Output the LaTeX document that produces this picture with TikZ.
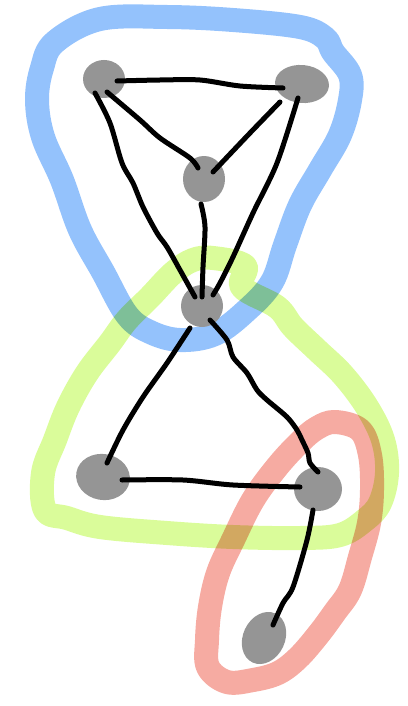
\documentclass[tikz,border=0pt]{standalone}
\usetikzlibrary{shapes.geometric}
\definecolor{hblue}{HTML}{94C2FC}
\definecolor{hgreen}{HTML}{DAFC9A}
\definecolor{hred}{HTML}{F6ABA2}
\definecolor{ngray}{HTML}{959595}
\tikzset{
  hyper/.style={line width=24pt, line join=round, blend mode=multiply},
  vtx/.style={ellipse, fill=ngray, inner sep=0pt},
  edge/.style={line width=5pt, line cap=round, line join=round, black}
}
\begin{document}
\begin{tikzpicture}[x=1pt,y=-1pt]
\useasboundingbox (0,0) rectangle (407,706);
% hyperedges
\draw[hyper, hgreen] plot[smooth cycle, tension=0.6] coordinates {
 (213,258) (245,266) (242,287) (277,307) (293,327) (317,350) (343,375)
 (367,407) (383,440) (387,473) (380,503) (365,520) (340,535) (300,538)
 (233,537) (167,533) (100,527) (67,518) (45,510) (43,473) (55,440)
 (68,407) (87,373) (110,343) (127,320) (150,297) (173,273) (193,260)};
\draw[hyper, hblue] plot[smooth cycle, tension=0.6] coordinates {
 (55,42) (100,19) (167,17) (233,20) (300,27) (325,38) (333,52) (350,75)
 (350,100) (340,135) (320,170) (300,205) (285,245) (272,282) (247,310)
 (215,334) (180,340) (150,332) (127,315) (103,272) (80,230) (62,180)
 (43,137) (37,100) (42,68)};
\draw[hyper, hred] plot[smooth cycle, tension=0.6] coordinates {
 (335,422) (360,430) (370,455) (372,490) (369,523) (360,557) (350,590)
 (335,612) (318,635) (298,658) (278,673) (253,680) (227,682) (208,667)
 (207,640) (210,607) (218,573) (233,540) (253,500) (277,467) (300,442)
 (317,428)};
% vertices
\node[vtx, minimum width=42pt, minimum height=38pt] (A) at (104,79) {};
\node[vtx, minimum width=54pt, minimum height=38pt, rotate=-5] (B) at (302,84) {};
\node[vtx, minimum width=42pt, minimum height=46pt] (C) at (204,179) {};
\node[vtx, minimum width=42pt, minimum height=42pt] (D) at (202,306) {};
\node[vtx, minimum width=54pt, minimum height=46pt, rotate=-10] (E) at (103,477) {};
\node[vtx, minimum width=48pt, minimum height=44pt] (F) at (318,489) {};
\node[vtx, minimum width=42pt, minimum height=54pt, rotate=-25] (G) at (264,638) {};
% edges
\draw[edge] plot[smooth] coordinates {([shift={(13,2)}]A.center) (160,80) (200,80) (240,86) ([shift={(-19,4)}]B.center)};
\draw[edge] plot[smooth] coordinates {([shift={(3,13)}]A.center) (140,120) (160,138) (190,158) ([shift={(-6,-11)}]C.center)};
\draw[edge] plot[smooth] coordinates {([shift={(-9,14)}]A.center) (110,123) (122,163) (133,183) (143,207) (157,233) (167,247) (180,270) ([shift={(-7,-9)}]D.center)};
\draw[edge] plot[smooth] coordinates {([shift={(-22,18)}]B.center) (250,133) ([shift={(9,-7)}]C.center)};
\draw[edge] plot[smooth] coordinates {([shift={(-4,14)}]B.center) (277,163) (253,213) (233,257) (220,283) ([shift={(11,-11)}]D.center)};
\draw[edge] plot[smooth] coordinates {([shift={(-3,25)}]C.center) (205,227) (203,267) ([shift={(0,-9)}]D.center)};
\draw[edge] plot[smooth] coordinates {([shift={(-12,22)}]D.center) (167,363) (143,397) (123,430) ([shift={(4,-14)}]E.center)};
\draw[edge] plot[smooth] coordinates {([shift={(8,14)}]D.center) (227,340) (233,357) (247,373) (257,390) (267,400) (287,417) (297,430) (302,440) (308,453) (310,463) ([shift={(0,-17)}]F.center)};
\draw[edge] plot[smooth] coordinates {([shift={(19,3)}]E.center) (183,480) (233,485) ([shift={(-18,-2)}]F.center)};
\draw[edge] plot[smooth] coordinates {([shift={(-5,21)}]F.center) (307,540) (293,587) (283,603) ([shift={(9,-13)}]G.center)};
\end{tikzpicture}
\end{document}
